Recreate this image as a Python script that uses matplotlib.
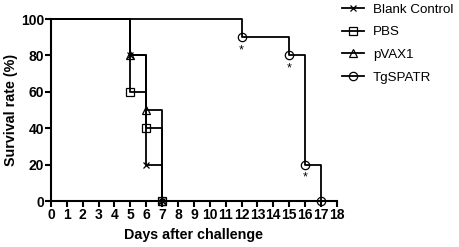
import matplotlib.pyplot as plt
import numpy as np

plt.rcParams['font.family'] = ['Liberation Sans', 'DejaVu Sans']

# Kaplan-Meier style data: event days and survival (%) after each event
blank_days = [0, 5, 6, 7]
blank_surv = [100, 80, 20, 0]
pbs_days = [0, 5, 6, 7]
pbs_surv = [100, 60, 40, 0]
pvax_days = [0, 5, 6, 7]
pvax_surv = [100, 80, 50, 0]
tg_days = [0, 12, 15, 16, 17]
tg_surv = [100, 90, 80, 20, 0]
sig_days = [12, 15, 16]   # asterisks under these TgSPATR points
sig_surv = [90, 80, 20]

fig = plt.figure(figsize=(4.59, 2.47), dpi=100)
ax = fig.add_axes([0.111, 0.186, 0.623, 0.737])

series = [
    ('Blank Control', blank_days, blank_surv, 'x'),
    ('PBS', pbs_days, pbs_surv, 's'),
    ('pVAX1', pvax_days, pvax_surv, '^'),
    ('TgSPATR', tg_days, tg_surv, 'o'),
]

handles = []
for name, d, s, m in series:
    ax.step(d, s, where='post', color='black', lw=1.3, clip_on=False)
    # markers at the event points only
    ms = 5 if m == 'x' else 6
    ax.plot(d[1:], s[1:], ls='none', marker=m, ms=ms, mfc='none', mec='black',
            mew=0.9, clip_on=False, zorder=3)
    h, = ax.plot([], [], color='black', lw=1.3, marker=m, ms=ms, mfc='none',
                 mec='black', mew=0.9)
    handles.append(h)

for d, s in zip(sig_days, sig_surv):
    ax.text(d, s - 4, '*', ha='center', va='top', fontsize=9)

ax.set_xlim(0, 18)
ax.set_ylim(0, 100)
ax.set_xticks(np.arange(0, 19, 1))
ax.set_yticks(np.arange(0, 101, 20))
for sp in ['top', 'right']:
    ax.spines[sp].set_visible(False)
for sp in ['left', 'bottom']:
    ax.spines[sp].set_linewidth(1.5)
ax.tick_params(width=1.5, length=4, labelsize=10, pad=1)
for lab in ax.get_xticklabels() + ax.get_yticklabels():
    lab.set_fontweight('bold')

ax.set_xlabel('Days after challenge', fontsize=10.3, fontweight='bold', labelpad=4)
ax.set_ylabel('Survival rate (%)', fontsize=10.3, fontweight='bold', labelpad=2)

fig.legend(handles, [s[0] for s in series], loc='upper left',
           bbox_to_anchor=(0.72, 1.035), frameon=False, fontsize=9.6,
           handlelength=1.6, handletextpad=0.7, labelspacing=0.78)

plt.savefig('out.png', dpi=100)
